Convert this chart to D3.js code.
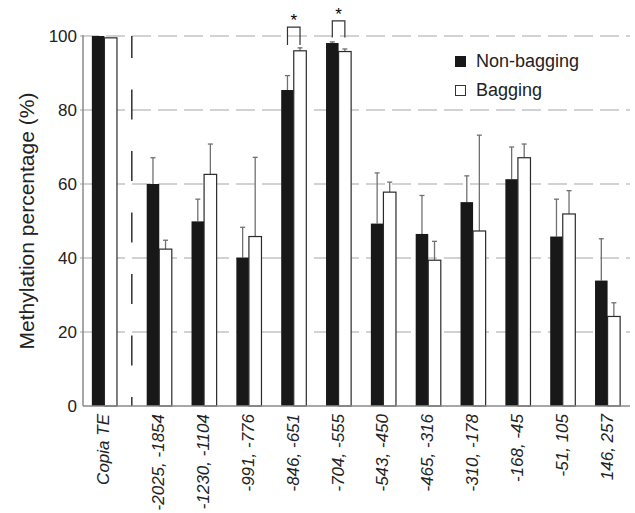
<!DOCTYPE html>
<html>
<head>
<meta charset="utf-8">
<script src="https://cdn.jsdelivr.net/npm/d3@7"></script>
<style>
  body { margin: 0; background: #fff; }
  svg { display: block; font-family: "Liberation Sans", Arial, sans-serif; }
</style>
</head>
<body>
<svg width="635" height="513"></svg>
<script>
const categories = ['Copia TE', '-2025, -1854', '-1230, -1104', '-991, -776', '-846, -651', '-704, -555',
  '-543, -450', '-465, -316', '-310, -178', '-168, -45', '-51, 105', '146, 257'];
const nonBagging = [100, 60.0, 49.9, 40.1, 85.4, 98.1, 49.3, 46.5, 55.1, 61.3, 45.8, 33.9];
const nonBaggingErr = [0, 7.1, 6.0, 8.2, 3.9, 0.3, 13.7, 10.4, 7.1, 8.7, 10.1, 11.3];
const bagging = [99.5, 42.4, 62.6, 45.8, 96.0, 95.8, 57.8, 39.4, 47.3, 67.1, 51.9, 24.2];
const baggingErr = [0, 2.4, 8.2, 21.4, 0.8, 0.7, 2.7, 5.1, 25.9, 3.7, 6.3, 3.7];
const yTicks = [0, 20, 40, 60, 80, 100];
const seriesNames = ['Non-bagging', 'Bagging'];
// significance brackets: group, bracket top, leg bottom (in %)
const sigGroups = ['-846, -651', '-704, -555'];
const sigTop = [102.4, 104.1];
const sigLeg = [97.6, 99.6];

const svg = d3.select('svg');
const axisX = 83;

const x = d3.scaleBand()
  .domain(categories)
  .range([92, 630])
  .paddingInner(0.44)
  .paddingOuter(0.22);
const copiaShift = -10; // first group sits a bit closer to the axis
const gx = d => x(d) + (d === categories[0] ? copiaShift : 0);
const bw = x.bandwidth() / 2;

const y = d3.scaleLinear().domain([0, 100]).range([406, 36]);

// grid
svg.append('g').selectAll('line').data(yTicks.filter(t => t > 0))
  .enter().append('line')
  .attr('x1', axisX - 3).attr('x2', 630)
  .attr('y1', d => y(d)).attr('y2', d => y(d))
  .attr('stroke', '#c4c4c4').attr('stroke-width', 1.5)
  .attr('stroke-dasharray', '19,7');

// separator
const sepX = (gx(categories[0]) + x.bandwidth() + gx(categories[1])) / 2;
svg.append('line')
  .attr('x1', sepX).attr('x2', sepX)
  .attr('y1', y(100)).attr('y2', y(0))
  .attr('stroke', '#111').attr('stroke-width', 1.3)
  .attr('stroke-dasharray', '30,31.5')
  .attr('stroke-dashoffset', 8);

const data = categories.map((c, i) => ({
  c, nb: nonBagging[i], nbe: nonBaggingErr[i], b: bagging[i], be: baggingErr[i]
}));

const g = svg.append('g');

// error bars
const errG = g.append('g').attr('stroke', '#707070').attr('stroke-width', 1.3);
data.forEach(d => {
  [[d.nb, d.nbe, 0], [d.b, d.be, 1]].forEach(([v, e, k]) => {
    if (!e) return;
    const cx = gx(d.c) + bw * k + bw / 2;
    errG.append('line').attr('x1', cx).attr('x2', cx).attr('y1', y(v)).attr('y2', y(v + e));
    errG.append('line').attr('x1', cx - 2.5).attr('x2', cx + 2.5).attr('y1', y(v + e)).attr('y2', y(v + e));
  });
});

// bars
g.selectAll('rect.nb').data(data).enter().append('rect')
  .attr('class', 'nb')
  .attr('x', d => gx(d.c))
  .attr('y', d => y(d.nb))
  .attr('width', bw)
  .attr('height', d => y(0) - y(d.nb))
  .attr('fill', '#181818');
g.selectAll('rect.b').data(data).enter().append('rect')
  .attr('class', 'b')
  .attr('x', d => gx(d.c) + bw)
  .attr('y', d => y(d.b))
  .attr('width', bw)
  .attr('height', d => y(0) - y(d.b))
  .attr('fill', '#fff')
  .attr('stroke', '#2a2a2a')
  .attr('stroke-width', 1.2);

// significance
sigGroups.forEach((s, i) => {
  const x1 = gx(s) + bw / 2, x2 = gx(s) + bw * 1.5;
  svg.append('path')
    .attr('d', `M${x1},${y(sigLeg[i])}V${y(sigTop[i])}H${x2}V${y(sigLeg[i])}`)
    .attr('fill', 'none').attr('stroke', '#333').attr('stroke-width', 1.2);
  svg.append('text')
    .attr('x', (x1 + x2) / 2).attr('y', y(sigTop[i]) - 1)
    .attr('text-anchor', 'middle')
    .attr('font-size', 17)
    .text('*');
});

// axes
svg.append('line')
  .attr('x1', axisX).attr('x2', axisX).attr('y1', y(100) - 1).attr('y2', y(0))
  .attr('stroke', '#8a8a8a').attr('stroke-width', 1.5);
svg.append('line')
  .attr('x1', axisX).attr('x2', 630).attr('y1', y(0)).attr('y2', y(0))
  .attr('stroke', '#8a8a8a').attr('stroke-width', 1.5);

svg.append('g').selectAll('text').data(yTicks)
  .enter().append('text')
  .attr('x', axisX - 6)
  .attr('y', d => y(d))
  .attr('dy', '0.35em')
  .attr('text-anchor', 'end')
  .attr('font-size', 17)
  .attr('fill', '#222')
  .text(d => d);

svg.append('g').selectAll('text').data(categories)
  .enter().append('text')
  .attr('transform', d => `translate(${gx(d) + x.bandwidth() / 2 - 1},${y(0) + 8}) rotate(-90)`)
  .attr('dy', '0.35em')
  .attr('text-anchor', 'end')
  .attr('font-size', 17)
  .attr('font-style', 'italic')
  .attr('fill', '#222')
  .text(d => d);

svg.append('text')
  .attr('transform', `translate(34,${(y(0) + y(100)) / 2}) rotate(-90)`)
  .attr('text-anchor', 'middle')
  .attr('font-size', 21)
  .attr('fill', '#222')
  .text('Methylation percentage (%)');

// legend
const legend = svg.append('g').attr('transform', 'translate(455,56)');
seriesNames.forEach((n, i) => {
  legend.append('rect')
    .attr('x', i ? 0.5 : 0).attr('y', i * 29 + (i ? 0.5 : 0))
    .attr('width', i ? 10 : 11).attr('height', i ? 10 : 11)
    .attr('fill', i ? '#fff' : '#181818')
    .attr('stroke', i ? '#333' : 'none');
  legend.append('text')
    .attr('x', 21).attr('y', i * 29 + 11)
    .attr('font-size', 18)
    .attr('fill', '#222')
    .text(n);
});
</script>
</body>
</html>
